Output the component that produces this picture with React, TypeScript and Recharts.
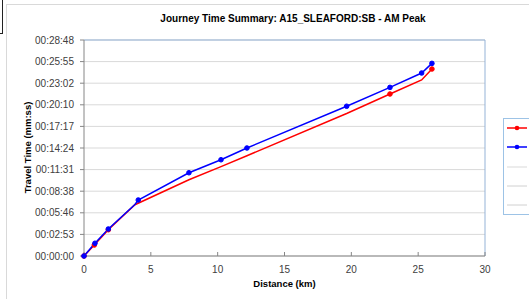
import React from 'react'
import { LineChart, Line, XAxis, YAxis, CartesianGrid, ReferenceLine } from 'recharts'

// distance (km) and travel time (seconds)
const blueDistance = [0, 0.82, 1.82, 3.81, 4.06, 7.85, 10.25, 12.19, 19.65, 22.89, 25.26, 26.03]
const blueTime = [0, 102, 216, 412, 448, 666, 770, 864, 1198, 1349, 1464, 1541]
const blueMarker = [true, true, true, false, true, true, true, true, true, true, true, true]

const redDistance = [0, 0.77, 1.82, 3.81, 7.85, 10.25, 12.19, 19.65, 22.89, 25.26, 26.03]
const redTime = [0, 88, 210, 410, 610, 715, 802, 1140, 1296, 1408, 1496]
const redMarker = [true, true, true, false, false, false, false, false, true, false, true]

const xTicks = [0, 5, 10, 15, 20, 25, 30]
const yTicks = [0, 172.8, 345.6, 518.4, 691.2, 864, 1036.8, 1209.6, 1382.4, 1555.2, 1728]

const blueData = blueDistance.map((d, i) => ({ dist: d, time: blueTime[i], marker: blueMarker[i] }))
const redData = redDistance.map((d, i) => ({ dist: d, time: redTime[i], marker: redMarker[i] }))

const font = '"Liberation Sans", Arial, sans-serif'

const pad = (n: number) => (n < 10 ? '0' + n : '' + n)
const formatTime = (v: number) => {
  const s = Math.round(v)
  return `00:${pad(Math.floor(s / 60))}:${pad(s % 60)}`
}

const makeDot = (color: string) => (props: any) => {
  const { cx, cy, payload, index } = props
  if (!payload || !payload.marker) return <g key={index} />
  return <circle key={index} cx={cx} cy={cy} r={2.3} fill={color} stroke={color} />
}

export default function App() {
  return (
    <div style={{ position: 'absolute', left: 0, top: 0, width: 529, height: 299, background: '#fff', overflow: 'hidden', fontFamily: font }}>
      {/* outer chart frame */}
      <div style={{ position: 'absolute', left: 6, top: 4, width: 540, height: 320, border: '1px solid #d9d9d9' }} />
      <div style={{ position: 'absolute', left: 0, top: 0, width: 2, height: 33, borderRight: '1px solid #222', borderBottom: '1px solid #222' }} />

      <div style={{ position: 'absolute', left: 0, top: 13, width: 586, textAlign: 'center', fontSize: 10, fontWeight: 'bold', color: '#000' }}>
        Journey Time Summary: A15_SLEAFORD:SB - AM Peak
      </div>

      <LineChart width={529} height={299} data={blueData} margin={{ top: 40, right: 44, left: 0, bottom: 13 }}>
        <CartesianGrid vertical={false} stroke="#d9d9d9" strokeWidth={1} />
        <XAxis
          type="number"
          dataKey="dist"
          domain={[0, 30]}
          ticks={xTicks}
          interval={0}
          height={30}
          stroke="#868686"
          tickSize={-4}
          tickMargin={14}
          tick={{ fill: '#404040', fontSize: 10, fontFamily: font }}
        />
        <YAxis
          type="number"
          dataKey="time"
          domain={[0, 1728]}
          ticks={yTicks}
          interval={0}
          width={84}
          stroke="#868686"
          tickSize={4}
          tickMargin={6}
          tickFormatter={formatTime}
          tick={{ fill: '#404040', fontSize: 10, fontFamily: font }}
        />
        <ReferenceLine y={1728} stroke="#95b3d7" strokeWidth={1} />
        <ReferenceLine x={30} stroke="#95b3d7" strokeWidth={1} />
        <Line
          data={redData}
          dataKey="time"
          type="linear"
          stroke="#ff0000"
          strokeWidth={1.5}
          dot={makeDot('#ff0000')}
          activeDot={false}
          isAnimationActive={false}
          name="red"
        />
        <Line
          data={blueData}
          dataKey="time"
          type="linear"
          stroke="#0000ff"
          strokeWidth={1.5}
          dot={makeDot('#0000ff')}
          activeDot={false}
          isAnimationActive={false}
          name="blue"
        />
      </LineChart>

      {/* axis titles */}
      <div style={{ position: 'absolute', left: 84, top: 278, width: 401, textAlign: 'center', fontSize: 9.5, fontWeight: 'bold', color: '#000' }}>
        Distance (km)
      </div>
      <div style={{ position: 'absolute', left: 27, top: 148, width: 0, height: 0 }}>
        <div style={{ position: 'absolute', left: -60, top: -6, width: 120, textAlign: 'center', fontSize: 9.5, fontWeight: 'bold', color: '#000', transform: 'rotate(-90deg)', whiteSpace: 'nowrap' }}>
          Travel Time (mm:ss)
        </div>
      </div>

      {/* legend (labels cut off at the right edge) */}
      <svg style={{ position: 'absolute', left: 503, top: 118 }} width={40} height={98}>
        <rect x={0.5} y={0.5} width={60} height={96} fill="#fff" stroke="#9dc3e6" />
        <line x1={4} x2={24} y1={10} y2={10} stroke="#ff0000" strokeWidth={1.5} />
        <circle cx={14} cy={10} r={2.3} fill="#ff0000" />
        <line x1={4} x2={24} y1={29} y2={29} stroke="#0000ff" strokeWidth={1.5} />
        <circle cx={14} cy={29} r={2.3} fill="#0000ff" />
        <line x1={4} x2={24} y1={49} y2={49} stroke="#e6e6e6" strokeWidth={1.5} />
        <line x1={4} x2={24} y1={68} y2={68} stroke="#d0d0d0" strokeWidth={1} />
        <line x1={4} x2={24} y1={87} y2={87} stroke="#d0d0d0" strokeWidth={1} />
      </svg>
    </div>
  )
}
